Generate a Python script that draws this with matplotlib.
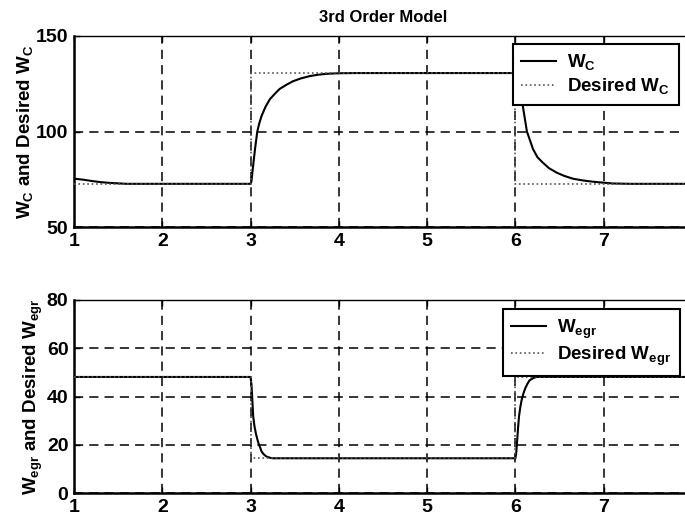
import matplotlib
matplotlib.use("Agg")
import matplotlib.pyplot as plt

plt.rcParams['font.family'] = ['Liberation Sans', 'DejaVu Sans']
plt.rcParams['font.weight'] = 'bold'
plt.rcParams['axes.labelweight'] = 'bold'
plt.rcParams['axes.titleweight'] = 'bold'
plt.rcParams['mathtext.default'] = 'regular'

# compressor flow W_C: response and set point
wc_t = [1.0, 1.1, 1.2, 1.3, 1.4, 1.6, 3.0, 3.01, 3.02, 3.05, 3.076, 3.1, 3.125,
        3.17, 3.22, 3.28, 3.33, 3.4, 3.48, 3.57, 3.67, 3.76, 3.86, 4.0, 4.2,
        6.0, 6.02, 6.05, 6.08, 6.13, 6.2, 6.25, 6.31, 6.38, 6.47, 6.55, 6.65,
        6.76, 6.88, 7.0, 7.1, 7.3, 8.0]
wc = [75.3, 74.8, 74.1, 73.5, 73.1, 72.6, 72.6, 74.0, 78.4, 90.7, 100.0, 104.5,
      108.2, 113.0, 117.0, 120.0, 122.3, 124.3, 126.3, 127.8, 129.0, 129.7,
      130.2, 130.5, 130.6, 130.6, 128.5, 122.5, 114.4, 100.0, 90.7, 86.5, 83.7,
      80.8, 78.4, 76.8, 75.3, 74.4, 73.7, 73.2, 72.8, 72.6, 72.6]
wc_ref_t = [1.0, 3.0, 3.0, 6.0, 6.0, 8.0]
wc_ref = [72.6, 72.6, 130.6, 130.6, 72.6, 72.6]

# EGR flow W_egr: response and set point
wegr_t = [1.0, 3.0, 3.01, 3.02, 3.03, 3.045, 3.06, 3.075, 3.09, 3.11, 3.125,
          3.15, 3.18, 3.22, 3.25, 3.3, 6.0, 6.01, 6.02, 6.03, 6.04, 6.055, 6.07,
          6.09, 6.11, 6.135, 6.16, 6.2, 6.24, 6.3, 8.0]
wegr = [48.1, 48.1, 45.0, 38.5, 31.6, 27.5, 24.7, 22.5, 20.6, 18.7, 17.2, 16.0,
        15.1, 14.6, 14.4, 14.4, 14.4, 17.0, 22.0, 27.0, 31.6, 35.5, 38.5, 41.2,
        43.3, 45.2, 46.7, 47.6, 48.1, 48.1, 48.1]
wegr_ref_t = [1.0, 3.0, 3.0, 6.0, 6.0, 8.0]
wegr_ref = [48.1, 48.1, 14.4, 14.4, 48.1, 48.1]

x_ticks = [1, 2, 3, 4, 5, 6, 7]

W, H = 685, 515
fig = plt.figure(figsize=(W / 100, H / 100), dpi=100)
ax1 = fig.add_axes([74 / W, 1 - 227 / H, (692 - 74) / W, (227 - 36) / H])
ax2 = fig.add_axes([74 / W, 1 - 493 / H, (692 - 74) / W, (493 - 300) / H])


def style(ax, yticks, ylim):
    ax.set_xlim(1, 8)
    ax.set_ylim(*ylim)
    ax.set_xticks(x_ticks)
    ax.set_yticks(yticks)
    ax.grid(True, color='black', linestyle=(0, (6, 4)), linewidth=1.1)
    ax.tick_params(direction='in', length=4, width=1, labelsize=14, top=True, right=True)
    ax.tick_params(axis='x', pad=4)
    ax.tick_params(axis='y', pad=4)
    for s in ['left', 'bottom']:
        ax.spines[s].set_linewidth(1.8)
    ax.spines['top'].set_linewidth(1.0)
    ax.spines['right'].set_linewidth(1.0)


def add_legend(ax, x0, y0):
    leg = ax.legend(loc='upper left', bbox_to_anchor=(x0 / W, 1 - y0 / H),
                    bbox_transform=fig.transFigure, fontsize=13.5,
                    handlelength=1.85, handletextpad=0.6, labelspacing=0.2,
                    borderpad=0.45, borderaxespad=0, fancybox=False,
                    framealpha=1, edgecolor='black')
    leg.get_frame().set_linewidth(1.5)
    leg.set_zorder(10)
    return leg


ax1.plot(wc_t, wc, color='black', linewidth=1.5, label=r'W$_C$', zorder=3)
ax1.plot(wc_ref_t, wc_ref, color='#555555', linestyle=':', linewidth=1.2,
         label=r'Desired W$_C$', zorder=4)
style(ax1, [50, 100, 150], (50, 150))
ax1.set_ylabel(r'W$_C$ and Desired W$_C$', fontsize=13.5, labelpad=1)
ax1.set_title('3rd Order Model', fontsize=12, pad=10)
add_legend(ax1, 513, 44)

ax2.plot(wegr_t, wegr, color='black', linewidth=1.5, label=r'W$_{egr}$', zorder=3)
ax2.plot(wegr_ref_t, wegr_ref, color='#555555', linestyle=':', linewidth=1.2,
         label=r'Desired W$_{egr}$', zorder=4)
style(ax2, [0, 20, 40, 60, 80], (0, 80))
ax2.set_ylabel(r'W$_{egr}$ and Desired W$_{egr}$', fontsize=13.5, labelpad=1)
add_legend(ax2, 503, 309)

fig.savefig('out.png', dpi=100)
